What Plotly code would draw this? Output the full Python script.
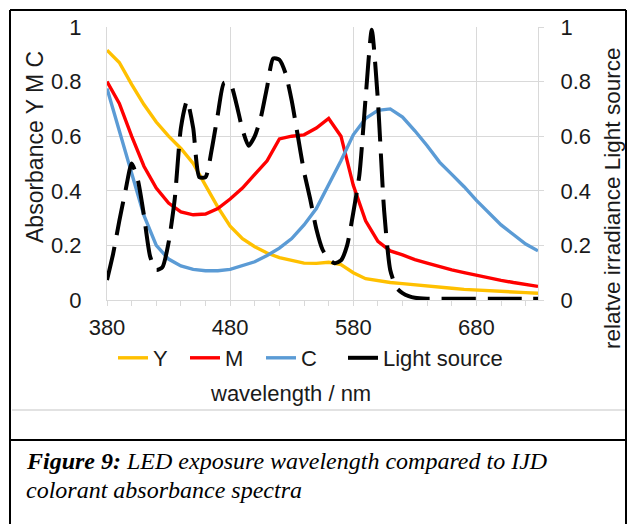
import plotly.graph_objects as go

# ---------------- data ----------------
wl = [380, 390, 400, 410, 420, 430, 440, 450, 460, 470, 480, 490, 500, 510, 520, 530,
      540, 550, 560, 570, 580, 590, 600, 610, 620, 630, 640, 650, 660, 670, 680, 690,
      700, 710, 720, 730]
Y_abs = [0.915, 0.87, 0.79, 0.716, 0.652, 0.60, 0.555, 0.50, 0.42, 0.34, 0.27, 0.225,
         0.195, 0.172, 0.155, 0.145, 0.135, 0.134, 0.138, 0.13, 0.10, 0.078, 0.07, 0.064,
         0.06, 0.055, 0.05, 0.046, 0.043, 0.039, 0.036, 0.033, 0.031, 0.029, 0.027, 0.025]
M_abs = [0.80, 0.72, 0.60, 0.49, 0.41, 0.355, 0.323, 0.312, 0.315, 0.335, 0.37, 0.41,
         0.46, 0.51, 0.59, 0.60, 0.605, 0.63, 0.665, 0.60, 0.42, 0.29, 0.215, 0.18,
         0.165, 0.148, 0.135, 0.122, 0.11, 0.10, 0.09, 0.08, 0.072, 0.064, 0.057, 0.05]
C_abs = [0.775, 0.62, 0.47, 0.31, 0.20, 0.15, 0.125, 0.112, 0.107, 0.107, 0.112, 0.125,
         0.14, 0.163, 0.19, 0.225, 0.275, 0.335, 0.42, 0.51, 0.605, 0.665, 0.695, 0.70,
         0.67, 0.62, 0.565, 0.505, 0.46, 0.415, 0.365, 0.32, 0.275, 0.24, 0.205, 0.18]

wl_light = [380, 385, 390, 395, 400, 405, 410, 415, 420, 425, 430, 435, 440, 445, 450,
            455, 460, 465, 470, 475, 480, 485, 490, 495, 500, 505, 510, 515, 520, 525,
            530, 535, 540, 545, 550, 555, 560, 565, 570, 575, 580, 585, 590, 595, 600,
            605, 610, 615, 620, 625, 630, 640, 650, 660, 670, 680, 690, 700, 710, 720, 730]
light = [0.073, 0.17, 0.29, 0.40, 0.50, 0.44, 0.31, 0.16, 0.11, 0.12, 0.21, 0.37, 0.63,
         0.73, 0.63, 0.45, 0.45, 0.55, 0.68, 0.795, 0.795, 0.72, 0.625, 0.565, 0.60,
         0.67, 0.78, 0.885, 0.88, 0.83, 0.73, 0.60, 0.47, 0.37, 0.26, 0.185, 0.15, 0.135,
         0.145, 0.20, 0.32, 0.46, 0.74, 0.99, 0.73, 0.33, 0.11, 0.045, 0.025, 0.014,
         0.008, 0.005, 0.005, 0.005, 0.005, 0.005, 0.005, 0.005, 0.005, 0.005, 0.005]

series_names = ["Y", "M", "C", "Light source"]
x_ticks = [380, 480, 580, 680]
y_ticks = [0, 0.2, 0.4, 0.6, 0.8, 1]
y_tick_text = ["0", "0.2", "0.4", "0.6", "0.8", "1"]

# ---------------- layout geometry ----------------
W, H = 627, 524
L, R, T, B = 107, 89, 27, 224
PW, PH = W - L - R, H - T - B


def px(xp):
    return (xp - L) / PW


def py(yp):
    return (H - B - yp) / PH


FONT = "Liberation Sans, Arial, sans-serif"
GRID = "#D9D9D9"
TXT = "#1a1a1a"

fig = go.Figure()
fig.add_trace(go.Scatter(x=wl, y=Y_abs, name=series_names[0], mode="lines", legend="legend",
                         line=dict(color="#FFC000", width=3.4)))
fig.add_trace(go.Scatter(x=wl, y=M_abs, name=series_names[1], mode="lines", legend="legend2",
                         line=dict(color="#FF0000", width=3.4)))
fig.add_trace(go.Scatter(x=wl, y=C_abs, name=series_names[2], mode="lines", legend="legend3",
                         line=dict(color="#5B9BD5", width=3.4)))
fig.add_trace(go.Scatter(x=wl_light, y=light, name=series_names[3], mode="lines",
                         yaxis="y2", legend="legend4",
                         line=dict(color="#000000", width=4, dash="34px,12px",
                                   shape="spline", smoothing=0.6)))


def leg(xpix):
    return dict(orientation="h", x=px(xpix), xanchor="left", y=py(358), yanchor="middle",
                font=dict(size=22, family=FONT, color=TXT),
                bgcolor="rgba(0,0,0,0)", itemwidth=30)


fig.update_layout(
    width=W, height=H,
    margin=dict(l=L, r=R, t=T, b=B, autoexpand=False),
    paper_bgcolor="white", plot_bgcolor="white",
    font=dict(family=FONT, size=22, color=TXT),
    showlegend=True,
    legend=leg(113), legend2=leg(185), legend3=leg(261), legend4=leg(343),
    xaxis=dict(range=[380, 730], tickvals=x_ticks, showgrid=True, gridcolor=GRID, gridwidth=1,
               showline=True, linecolor=GRID, linewidth=1, zeroline=False,
               ticks="outside", ticklen=5, tickcolor=GRID, ticklabelstandoff=3,
               minor=dict(dtick=20, tick0=380, ticks="outside", ticklen=5, tickcolor=GRID,
                          showgrid=False),
               tickfont=dict(size=22), automargin=False, fixedrange=True),
    yaxis=dict(range=[0, 1], tickvals=y_ticks, ticktext=y_tick_text, showgrid=True,
               gridcolor=GRID, gridwidth=1, showline=True, linecolor=GRID, linewidth=1,
               zeroline=False, ticks="", ticklabelstandoff=20,
               tickfont=dict(size=22), automargin=False, fixedrange=True),
    yaxis2=dict(range=[0, 1], tickvals=y_ticks, ticktext=y_tick_text, overlaying="y",
                side="right", showgrid=False, showline=True, linecolor=GRID, linewidth=1,
                zeroline=False, ticks="outside", ticklen=5, tickcolor=GRID,
                ticklabelstandoff=12, tickfont=dict(size=22), automargin=False,
                fixedrange=True),
)

# axis titles as annotations
fig.add_annotation(text="wavelength / nm", x=px(290), y=py(393), xref="paper", yref="paper",
                   showarrow=False, xanchor="center", yanchor="middle",
                   font=dict(size=22, family=FONT, color=TXT))
fig.add_annotation(text="Absorbance Y M C", x=px(35), y=py(147), xref="paper", yref="paper",
                   showarrow=False, textangle=-90, xanchor="center", yanchor="middle",
                   font=dict(size=23, family=FONT, color=TXT))
fig.add_annotation(text="relatve irradiance Light source", x=px(612), y=py(199),
                   xref="paper", yref="paper", showarrow=False, textangle=-90,
                   xanchor="center", yanchor="middle",
                   font=dict(size=22.5, family=FONT, color=TXT))

# caption
SERIF = "Liberation Serif, Times New Roman, serif"
fig.add_annotation(text="<b><i>Figure 9:</i></b><i> LED exposure wavelength compared to IJD</i>",
                   x=px(24), y=py(461), xref="paper", yref="paper", showarrow=False,
                   xanchor="left", yanchor="middle", font=dict(size=24, family=SERIF, color="black"))
fig.add_annotation(text="<i>colorant absorbance spectra</i>",
                   x=px(24), y=py(490), xref="paper", yref="paper", showarrow=False,
                   xanchor="left", yanchor="middle", font=dict(size=24, family=SERIF, color="black"))

# frame lines
shapes = [
    dict(type="line", x0=px(12), x1=px(627), y0=py(410), y1=py(410), line=dict(color=GRID, width=1.5)),
    dict(type="line", x0=px(10), x1=px(10), y0=py(10), y1=py(530), line=dict(color="black", width=2)),
    dict(type="line", x0=px(10), x1=px(626), y0=py(10), y1=py(10), line=dict(color="black", width=2)),
    dict(type="line", x0=px(626), x1=px(626), y0=py(10), y1=py(530), line=dict(color="black", width=2)),
    dict(type="line", x0=px(10), x1=px(626), y0=py(440), y1=py(440), line=dict(color="black", width=2)),
]
for s in shapes:
    s.update(xref="paper", yref="paper", layer="above")
    fig.add_shape(**s)

fig.write_html("out.html", post_script="document.body.style.margin='0';",
               config={"displayModeBar": False})
